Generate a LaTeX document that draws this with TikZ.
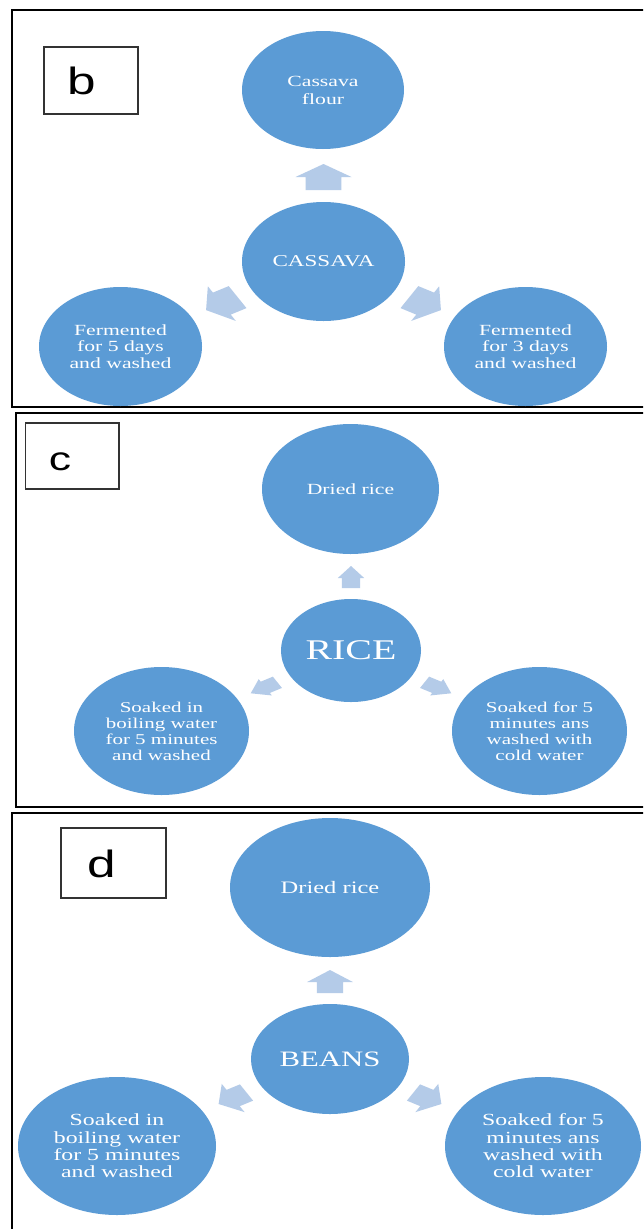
\documentclass[tikz,border=0pt]{standalone}
\usepackage{fontspec}
\usetikzlibrary{shapes.geometric}
\newfontfamily\wordserif[FakeStretch=1.4]{Liberation Serif}
\newfontfamily\wordsans[FakeStretch=1.35]{Liberation Sans}
\definecolor{bubble}{HTML}{5B9BD5}
\definecolor{arrowfill}{HTML}{B4CBE8}
\newcommand\drawblockarrow[7]{%
  \begin{scope}[shift={(#1,#2)},xscale=1.4,rotate=#3]
    \fill[arrowfill] (0,-#7) -- (#5,-#7) -- (#5,-#6) -- (#4,0) -- (#5,#6) -- (#5,#7) -- (0,#7) -- cycle;
  \end{scope}}
\tikzset{
  bub/.style={ellipse,fill=bubble,text=white,inner sep=0pt,align=center},
  frame/.style={draw=black,line width=2pt},
  labbox/.style={draw=black!80,line width=1.2pt},
  lab/.style={anchor=base,inner sep=0pt,font=\wordsans}
}
\begin{document}
\begin{tikzpicture}[x=1pt,y=1pt]
\useasboundingbox (0,0) rectangle (643,-1229);
\clip (0,0) rectangle (643,-1229);
\fill[white] (0,0) rectangle (643,-1229);
% ---------- panel b ----------
\draw[frame] (11.5,-9.5) rectangle (660,-407);
\draw[labbox] (44,-47) rectangle (138,-114);
\node[lab,font=\wordsans\fontsize{38}{38}\selectfont] (lb) at (82,-94) {b};
\node[bub,minimum width=162pt,minimum height=118pt,font=\wordserif\fontsize{15.5}{18}\selectfont] (bt) at (323,-90) {Cassava\\flour};
\node[bub,minimum width=163pt,minimum height=119pt,font=\wordserif\fontsize{16.5}{18}\selectfont] (bc) at (323.5,-261.5) {CASSAVA};
\node[bub,minimum width=163pt,minimum height=119pt,font=\wordserif\fontsize{15.5}{16.5}\selectfont] (bl) at (120.5,-346.5) {Fermented\\for 5 days\\and washed};
\node[bub,minimum width=163pt,minimum height=119pt,font=\wordserif\fontsize{15.5}{16.5}\selectfont] (br) at (525.5,-346.5) {Fermented\\for 3 days\\and washed};
\drawblockarrow{323.5}{-190}{90}{26}{13}{20}{12.7}
\drawblockarrow{237.6}{-297.1}{210}{26}{13}{20}{12.7}
\drawblockarrow{409.4}{-297.1}{330}{26}{13}{20}{12.7}
% ---------- panel c ----------
\draw[frame] (15.6,-413.3) rectangle (660,-806.7);
\draw[labbox] (25.4,-423) rectangle (119,-489);
\node[lab,font=\wordsans\fontsize{33}{33}\selectfont] (lc) at (60,-470) {c};
\node[bub,minimum width=177pt,minimum height=130pt,font=\wordserif\fontsize{15.5}{17}\selectfont] (ct) at (350.5,-489) {Dried rice};
\node[bub,minimum width=140pt,minimum height=103pt,font=\wordserif\fontsize{28.5}{30}\selectfont] (cc) at (351,-650.5) {RICE};
\node[bub,minimum width=175pt,minimum height=128pt,font=\wordserif\fontsize{15}{16}\selectfont] (cl) at (161.5,-731) {Soaked in\\boiling water\\for 5 minutes\\and washed};
\node[bub,minimum width=175pt,minimum height=128pt,font=\wordserif\fontsize{15}{16}\selectfont] (cr) at (539.5,-731) {Soaked for 5\\minutes ans\\washed with\\cold water};
\drawblockarrow{351}{-588}{90}{22}{10}{9.4}{6.5}
\drawblockarrow{277.4}{-682.3}{210}{22}{10}{9.4}{6.5}
\drawblockarrow{424.6}{-682.3}{330}{22}{10}{9.4}{6.5}
% ---------- panel d ----------
\draw[frame] (12.3,-813.3) rectangle (660,-1240);
\draw[labbox] (61,-828) rectangle (166,-898);
\node[lab,font=\wordsans\fontsize{38}{38}\selectfont] (ld) at (102,-877) {d};
\node[bub,minimum width=200pt,minimum height=139pt,font=\wordserif\fontsize{17.5}{19}\selectfont] (dt) at (330,-887.5) {Dried rice};
\node[bub,minimum width=158pt,minimum height=110pt,font=\wordserif\fontsize{22}{24}\selectfont] (dc) at (330,-1059) {BEANS};
\node[bub,minimum width=198pt,minimum height=138pt,font=\wordserif\fontsize{17}{17.3}\selectfont] (dl) at (117,-1146) {Soaked in\\boiling water\\for 5 minutes\\and washed};
\node[bub,minimum width=196pt,minimum height=138pt,font=\wordserif\fontsize{17}{17.3}\selectfont] (dr) at (543,-1146) {Soaked for 5\\minutes ans\\washed with\\cold water};
\drawblockarrow{330}{-993}{90}{23}{11}{16.3}{9.4}
\drawblockarrow{246.5}{-1092.5}{210}{23}{11}{16.3}{9.4}
\drawblockarrow{413.5}{-1092.5}{330}{23}{11}{16.3}{9.4}
\end{tikzpicture}
\end{document}
